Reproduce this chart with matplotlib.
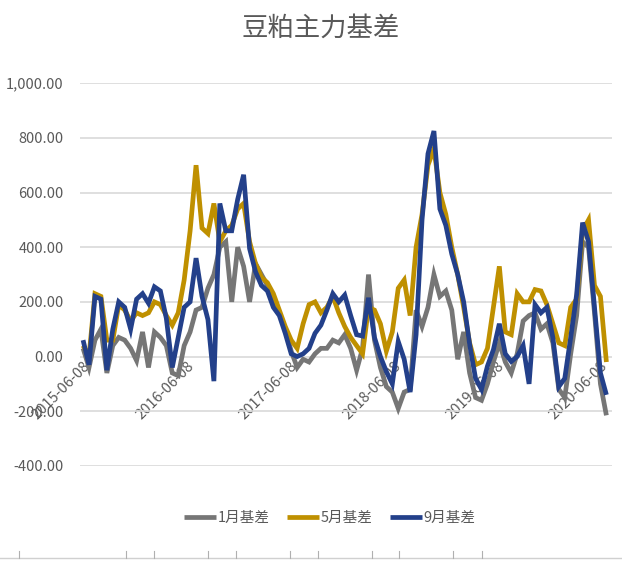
import matplotlib.pyplot as plt
import matplotlib.dates as mdates
import numpy as np
import pandas as pd
from matplotlib.ticker import FuncFormatter
from matplotlib.lines import Line2D

plt.rcParams['font.family'] = ['Noto Sans CJK SC', 'DejaVu Sans']

# 交易日期（每三周取一个点）
dates = pd.date_range('2015-06-08', periods=89, freq='21D')

# 1月基差
basis_jan = [30, -40, 60, 100, -60, 40, 70, 60, 30, -15,
             90, -40, 90, 70, 40, -60, -70, 40, 90, 170,
             180, 250, 300, 400, 420, 200, 400, 330, 200, 340,
             300, 260, 210, 160, 100, 20, -40, -10, -20, 10,
             30, 30, 60, 50, 80, 30, -50, 30, 300, 60,
             -40, -110, -130, -190, -130, -120, 170, 110, 180, 300,
             220, 240, 170, -10, 90, -60, -150, -160, -100, -20,
             50, -20, -60, 10, 130, 150, 160, 100, 120, 50,
             -120, -150, 10, 150, 420, 400, 160, -100, -215]

# 5月基差
basis_may = [40, 0, 230, 220, 60, 60, 190, 170, 130, 160,
             150, 160, 200, 190, 150, 115, 160, 280, 460, 700,
             470, 450, 560, 420, 460, 480, 540, 560, 420, 340,
             290, 270, 230, 170, 110, 60, 30, 120, 190, 200,
             160, 180, 220, 160, 110, 70, 40, 10, 180, 170,
             120, 20, 90, 250, 280, 150, 400, 520, 700, 760,
             600, 520, 400, 300, 180, 50, -30, -20, 30, 180,
             330, 90, 80, 230, 200, 200, 245, 240, 190, 120,
             50, 40, 180, 210, 460, 500, 260, 220, -20]

# 9月基差
basis_sep = [60, -30, 220, 210, -50, 100, 200, 180, 100, 210,
             230, 195, 255, 240, 140, -40, 70, 180, 200, 360,
             220, 135, -90, 560, 460, 460, 575, 665, 395, 310,
             260, 240, 180, 150, 85, 10, 0, 10, 30, 85,
             115, 170, 230, 200, 225, 150, 80, 75, 215, 70,
             0, -55, -100, 55, -10, -130, 80, 500, 742, 825,
             540, 480, 375, 300, 200, 45, -80, -120, -35, 25,
             120, 10, -18, 0, 40, -100, 190, 160, 180, 70,
             -110, -80, 70, 227, 490, 420, 180, -60, -140]

labels = ['1月基差', '5月基差', '9月基差']
colors = ['#767676', '#bf9000', '#23408a']
tick_dates = pd.to_datetime(['2015-06-08', '2016-06-08', '2017-06-08',
                             '2018-06-08', '2019-06-08', '2020-06-08'])

fig = plt.figure(figsize=(6.22, 5.62), dpi=100)
ax = fig.add_axes([0.129, 0.171, 0.855, 0.681])

for series, lab, col in zip([basis_jan, basis_may, basis_sep], labels, colors):
    ax.plot(dates, series, color=col, lw=3.4, label=lab,
            solid_joinstyle='miter', solid_capstyle='butt')

ax.set_ylim(-400, 1000)
ax.set_yticks(np.arange(-400, 1001, 200))
ax.yaxis.set_major_formatter(FuncFormatter(lambda v, _: f'{v:,.2f}'))
ax.set_xlim(dates[0] - pd.Timedelta(days=10), dates[-1] + pd.Timedelta(days=20))
ax.grid(axis='y', color='#d9d9d9', lw=1.2)
ax.set_axisbelow(True)

for s in ['top', 'right', 'left']:
    ax.spines[s].set_visible(False)
ax.spines['bottom'].set_position(('data', 0))
ax.spines['bottom'].set_visible(False)

ax.set_xticks(tick_dates)
ax.xaxis.set_major_formatter(mdates.DateFormatter('%Y-%m-%d'))
ax.tick_params(axis='x', length=0, pad=2, labelsize=10.5, labelcolor='#595959')
ax.tick_params(axis='y', length=0, pad=12, labelsize=10.5, labelcolor='#595959')
for t in ax.get_xticklabels():
    t.set_rotation(45)
    t.set_ha('right')
    t.set_va('top')
    t.set_rotation_mode('anchor')

fig.text(0.515, 0.95, '豆粕主力基差', ha='center', va='center',
         fontsize=19, color='#595959')

fig.legend(loc='center', bbox_to_anchor=(0.53, 0.078), ncol=3, frameon=False,
           fontsize=10.5, handlelength=2.2, handletextpad=0.1, columnspacing=1.2,
           labelcolor='#595959')

# 底部残留的坐标线
fig.add_artist(Line2D([0, 1], [0.007, 0.007], color='#d0d0d0', lw=1))
for xp in [0.03, 0.203, 0.248, 0.334, 0.379, 0.466, 0.511, 0.598, 0.641, 0.728, 0.775]:
    fig.add_artist(Line2D([xp, xp], [0.007, 0.02], color='#b0b0b0', lw=0.8))

fig.savefig('out.png', dpi=100, facecolor='white')
